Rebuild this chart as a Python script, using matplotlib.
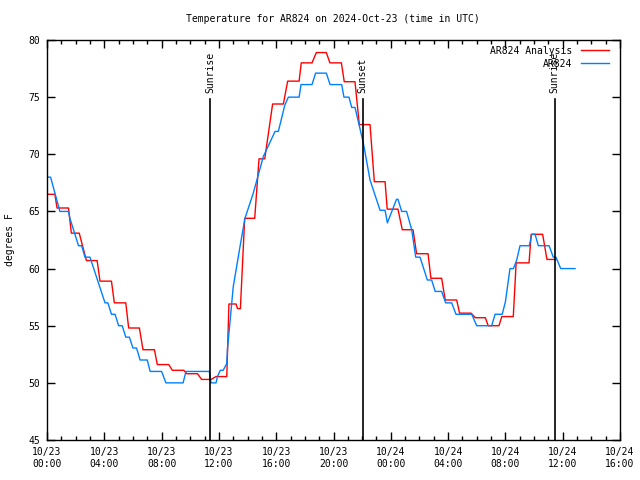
import matplotlib
matplotlib.use("Agg")
import matplotlib.pyplot as plt
from matplotlib.ticker import MultipleLocator

plt.rcParams['font.family'] = ['DejaVu Sans Mono']

# Analysis series (hours since 10/23 00:00 UTC, degrees F)
red_h = [0.0, 0.55, 0.7, 1.5, 1.7, 2.25, 2.75, 3.5, 3.7, 4.5, 4.7, 5.5, 5.7, 6.45, 6.7, 7.5, 7.7,
         8.5, 8.75, 9.55, 9.75, 10.5, 10.8, 11.45, 11.8, 12.55, 12.7, 13.2, 13.3, 13.5, 13.8, 14.5,
         14.8, 15.2, 15.75, 16.5, 16.8, 17.6, 17.75, 18.5, 18.8, 19.5, 19.75, 20.55, 20.75, 21.5,
         21.8, 22.55, 22.85, 23.6, 23.75, 24.5, 24.8, 25.55, 25.8, 26.6, 26.8, 27.55, 27.8, 28.6,
         28.8, 29.6, 29.9, 30.6, 30.8, 31.55, 31.75, 32.55, 32.75, 33.65, 33.8, 34.6, 34.9, 35.55]
red_t = [66.5, 66.5, 65.3, 65.3, 63.1, 63.1, 60.7, 60.7, 58.9, 58.9, 57.0, 57.0, 54.8, 54.8, 52.9,
         52.9, 51.6, 51.6, 51.1, 51.1, 50.8, 50.8, 50.3, 50.3, 50.55, 50.55, 56.9, 56.9, 56.5, 56.5,
         64.4, 64.4, 69.6, 69.6, 74.4, 74.4, 76.4, 76.4, 78.0, 78.0, 78.9, 78.9, 78.0, 78.0, 76.35,
         76.35, 72.6, 72.6, 67.6, 67.6, 65.2, 65.2, 63.4, 63.4, 61.3, 61.3, 59.15, 59.15, 57.25,
         57.25, 56.1, 56.1, 55.7, 55.7, 55.0, 55.0, 55.8, 55.8, 60.5, 60.5, 63.0, 63.0, 60.8, 60.8]

# Observed series
blue_h = [0.0, 0.25, 0.9, 1.5, 1.6, 2.2, 2.42, 2.65, 3.0, 4.05, 4.25, 4.5, 4.75, 5.0, 5.25, 5.5,
          5.75, 6.0, 6.25, 6.5, 7.0, 7.2, 8.0, 8.3, 9.5, 9.7, 11.33, 11.45, 11.8, 11.9, 12.1, 12.3,
          12.55, 12.6, 12.75, 13.0, 13.47, 13.82, 14.4, 15.1, 15.92, 16.15, 16.6, 16.85, 17.6,
          17.73, 18.5, 18.75, 19.5, 19.76, 20.57, 20.73, 21.08, 21.27, 21.5, 22.08, 22.55, 23.25,
          23.6, 23.76, 24.4, 24.5, 24.76, 25.1, 25.46, 25.74, 26.04, 26.55, 26.85, 27.1, 27.55,
          27.83, 28.25, 28.55, 29.65, 30.0, 31.04, 31.28, 31.78, 32.0, 32.32, 32.56, 32.79, 33.02,
          33.67, 33.84, 34.07, 34.3, 35.05, 35.34, 35.53, 35.86, 36.86]
blue_t = [68.0, 68.0, 65.0, 65.0, 64.4, 62.0, 62.0, 61.0, 61.0, 57.0, 57.0, 56.0, 56.0, 55.0, 55.0,
          54.0, 54.0, 53.05, 53.05, 52.0, 52.0, 51.0, 51.0, 50.0, 50.0, 51.0, 51.0, 50.0, 50.0, 50.55,
          51.1, 51.1, 51.7, 53.0, 55.0, 58.4, 61.9, 64.4, 66.6, 69.8, 72.0, 72.0, 74.3, 75.0, 75.0,
          76.1, 76.1, 77.1, 77.1, 76.1, 76.1, 75.0, 75.0, 74.1, 74.1, 71.0, 67.75, 65.1, 65.1, 64.0,
          66.06, 66.06, 65.0, 65.0, 63.4, 61.0, 61.0, 59.0, 59.0, 58.0, 58.0, 57.0, 57.0, 56.0, 56.0,
          55.0, 55.0, 56.0, 56.0, 57.1, 60.0, 60.0, 60.75, 62.0, 62.0, 63.0, 63.0, 62.0, 62.0, 61.0,
          61.0, 60.0, 60.0]

sun_h = [11.41, 22.05, 35.45]
sun_labels = ["Sunrise", "Sunset", "Sunrise"]

xtick_h = [0, 4, 8, 12, 16, 20, 24, 28, 32, 36, 40]
xtick_labels = ["10/23\n00:00", "10/23\n04:00", "10/23\n08:00", "10/23\n12:00", "10/23\n16:00",
                "10/23\n20:00", "10/24\n00:00", "10/24\n04:00", "10/24\n08:00", "10/24\n12:00",
                "10/24\n16:00"]

fig = plt.figure(figsize=(6.4, 4.8), dpi=100)
ax = fig.add_axes([47/640, 1-440/480, (620-47)/640, 400/480])

ax.plot(red_h, red_t, color='#ff0000', lw=1.0, label='AR824 Analysis')
ax.plot(blue_h, blue_t, color='#0080ff', lw=1.0, label='AR824')

for h, lab in zip(sun_h, sun_labels):
    ax.plot([h, h], [45, 74.8], color='black', lw=1.2)
    ax.text(h, 75.4, lab, rotation=90, ha='center', va='bottom', fontsize=7)

ax.set_xlim(0, 40)
ax.set_ylim(45, 80)
ax.set_xticks(xtick_h)
ax.set_xticklabels(xtick_labels, fontsize=7)
ax.xaxis.set_minor_locator(MultipleLocator(1))
ax.yaxis.set_major_locator(MultipleLocator(5))
ax.tick_params(axis='both', which='major', direction='in', length=6, width=1, top=True, right=True,
               labelsize=7, pad=5)
ax.tick_params(axis='x', which='minor', direction='in', length=3, width=1, top=True)
for s in ax.spines.values():
    s.set_linewidth(1.0)

ax.set_ylabel('degrees F', fontsize=7)
ax.yaxis.set_label_coords(-0.055, 0.5)
fig.text(333/640, 1-19/480, 'Temperature for AR824 on 2024-Oct-23 (time in UTC)', ha='center',
         va='center', fontsize=7)

ax.legend(loc='upper right', bbox_to_anchor=(0.991, 1.0), frameon=False, markerfirst=False,
          fontsize=7, handlelength=2.9, borderaxespad=0.2, labelspacing=0.3, handletextpad=0.9)

fig.savefig('out.png', dpi=100)
